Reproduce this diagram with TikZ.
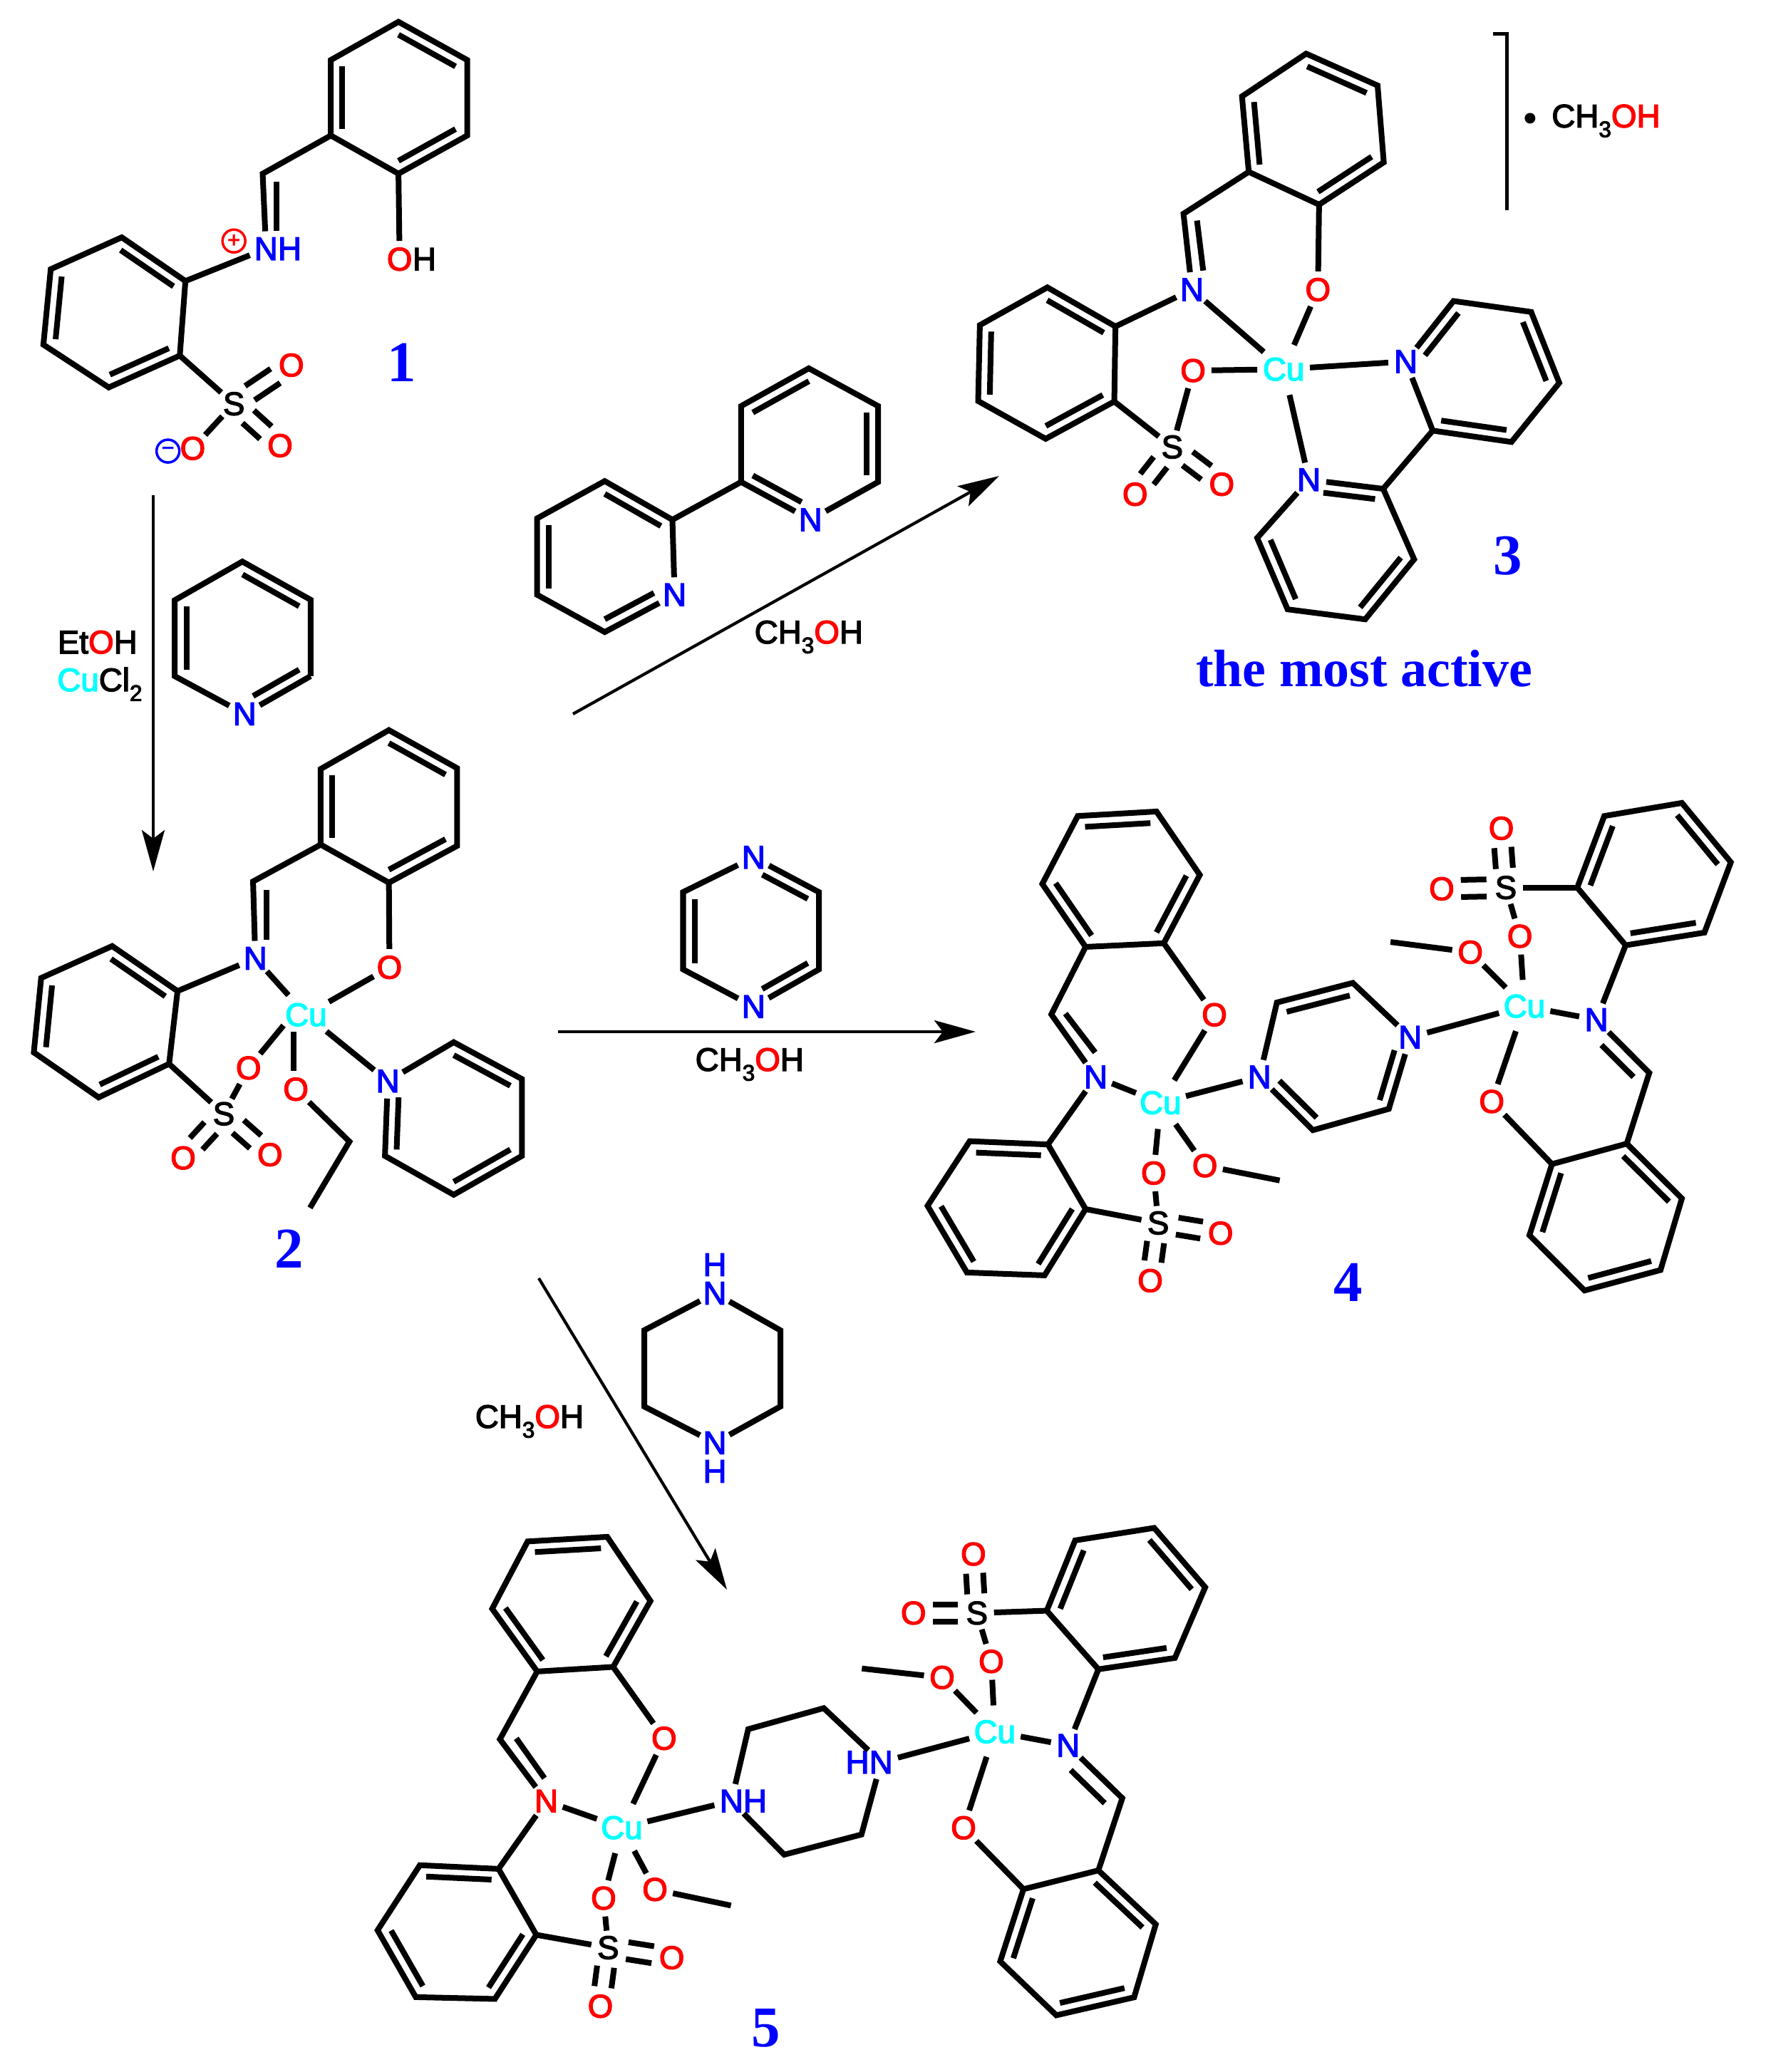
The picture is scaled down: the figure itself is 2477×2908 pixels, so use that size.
\documentclass[tikz,border=0pt]{standalone}
\usepackage{fontspec}
\setmainfont{Liberation Sans}[FakeBold=3]
\newfontfamily\numfont{Liberation Serif}[BoldFont={Liberation Serif Bold}]
\usetikzlibrary{calc,arrows.meta}
\definecolor{cuc}{RGB}{0,255,255}
\definecolor{nb}{RGB}{0,0,255}
\definecolor{ored}{RGB}{255,0,0}
\tikzset{
  bond/.style={line width=.08cm,line join=miter,line cap=butt},
  rxn/.style={line width=.042cm,-{Stealth[length=.58cm,width=.32cm,inset=.12cm]}},
  atomlab/.style={circle,inner sep=.2pt,font=\fontsize{13}{15}\selectfont},
  Na/.style={atomlab,text=nb},
  Nr/.style={atomlab,text=ored},
  Oa/.style={atomlab,text=ored},
  Sa/.style={atomlab,text=black},
  Cua/.style={atomlab,text=cuc,inner sep=.6pt},
  Hn/.style={inner sep=0pt,text=nb,font=\fontsize{13}{15}\selectfont},
  Hk/.style={inner sep=0pt,text=black,font=\fontsize{13}{15}\selectfont},
  plain/.style={inner sep=0pt,anchor=base,font=\fontsize{13}{15}\selectfont},
  cnum/.style={inner sep=0pt,text=nb,font=\numfont\bfseries\fontsize{23}{28}\selectfont},
  charge/.style={circle,draw,line width=.035cm,minimum size=.32cm,inner sep=0pt,font=\fontsize{8.5}{9}\selectfont},
  z1/.style={x=.0079083cm,y=-.0063776cm},
  z2/.style={shift={(12.4cm,0cm)},x=.0078889cm,y=-.0063776cm},
  z3/.style={shift={(0cm,-10cm)},x=.0079083cm,y=-.0057405cm},
  z4/.style={shift={(12.4cm,-10cm)},x=.0078889cm,y=-.0057405cm},
  z5/.style={shift={(4cm,-19cm)},x=.0063776cm,y=-.0064285cm},
  z6/.style={shift={(11cm,-20.5cm)},x=.0044643cm,y=-.0054717cm},
}
\newcommand{\dblin}[4][]{\draw[bond,#1] ($(#2)!.17!(#4)$) -- ($(#3)!.17!(#4)$);}
\newcommand{\sodbl}[2]{%
  \draw[bond] ($(#1)!.27cm!(#2)!.12cm!90:(#2)$) -- ($(#2)!.27cm!(#1)!.12cm!-90:(#1)$);
  \draw[bond] ($(#1)!.27cm!(#2)!-.12cm!90:(#2)$) -- ($(#2)!.27cm!(#1)!-.12cm!-90:(#1)$);}
\newcommand{\Cring}[7]{%
  \coordinate (#11) at (#2);\coordinate (#12) at (#3);\coordinate (#13) at (#4);
  \coordinate (#14) at (#5);\coordinate (#15) at (#6);\coordinate (#16) at (#7);
  \coordinate (#1c) at ($(#11)!.5!(#14)$);
  \draw[bond] (#11) -- (#12) -- (#13) -- (#14) -- (#15) -- (#16) -- cycle;
  \dblin{#11}{#12}{#1c}\dblin{#13}{#14}{#1c}\dblin{#15}{#16}{#1c}}
\newcommand{\lowsub}[1]{\raisebox{-.3em}{\fontsize{9}{9}\selectfont #1}}
\newcommand{\meoh}{CH\lowsub{3}\textcolor{ored}{O}H}
\newcommand{\meohr}{CH\lowsub{3}\textcolor{ored}{OH}}
\begin{document}
\begin{tikzpicture}[x=.01cm,y=-.01cm]
\useasboundingbox (0,0) rectangle (2477,2908);

% ---------- compound 1 and reagents
\begin{scope}[z1]
\Cring{a}{707,48}{829,132}{829,298}{707,382}{587,298}{587,132}
\coordinate (ach) at (466,382);
\node[Na] (an) at (472,547) {N};
\node[Hn] (anh) at (514,547) {H};
\node[Oa] (aoh) at (709,570) {O};
\node[Hk] (aohh) at (753,570) {H};
\draw[bond] (a5) -- (ach) -- (an);
\draw[bond] (491,400) -- (491,508);
\draw[bond] (a4) -- (aoh);
\Cring{b}{216,522}{329,618}{319,782}{193,852}{77,758}{90,592}
\draw[bond] (an) -- (b2);
\node[Sa] (as) at (415,888) {S};
\node[Oa] (ao1) at (517,803) {O};
\node[Oa] (ao2) at (497,980) {O};
\node[Oa] (ao3) at (342,986) {O};
\draw[bond] (b3) -- (as);
\draw[bond] (as) -- (ao3);
\sodbl{as}{ao1}
\sodbl{as}{ao2}
\node[charge,draw=ored,text=ored] (plus) at (415,530) {+};
\node[charge,draw=nb,text=nb] (minus) at (298,992) {−};
\node[cnum] (lab1) at (713,797) {1};
\node[plain] (etoh) at (173,1437) {Et\textcolor{ored}{O}H};
\node[plain] (cucl) at (177,1520) {\textcolor{cuc}{Cu}Cl\lowsub{2}};
% pyridine reagent
\coordinate (p1) at (430,1235);\coordinate (p2) at (551,1319);\coordinate (p3) at (551,1487);
\node[Na] (pn) at (434,1570) {N};
\coordinate (p5) at (310,1487);\coordinate (p6) at (310,1320);
\coordinate (pc) at ($(p1)!.5!(434,1570)$);
\draw[bond] (p3) -- (pn) -- (p5) -- (p6) -- (p1) -- (p2) -- (p3);
\dblin{p1}{p2}{pc}\dblin[shorten >=.14cm]{p3}{pn}{pc}\dblin{p5}{p6}{pc}
% bipyridine reagent
\coordinate (e1) at (1193,1143);\coordinate (e2) at (1073,1058);\coordinate (e3) at (953,1140);
\coordinate (e4) at (953,1308);\coordinate (e5) at (1073,1390);
\node[Na] (en) at (1197,1308) {N};
\coordinate (ec) at ($(e2)!.5!(e5)$);
\draw[bond] (en) -- (e1) -- (e2) -- (e3) -- (e4) -- (e5) -- (en);
\dblin{e1}{e2}{ec}\dblin{e3}{e4}{ec}\dblin[shorten >=.14cm]{e5}{en}{ec}
\coordinate (f1) at (1315,1060);\coordinate (f2) at (1315,893);\coordinate (f3) at (1435,810);
\coordinate (f4) at (1558,893);\coordinate (f5) at (1558,1060);
\node[Na] (fn) at (1438,1143) {N};
\coordinate (fc) at ($(f3)!.5!(fn)$);
\draw[bond] (fn) -- (f1) -- (f2) -- (f3) -- (f4) -- (f5) -- (fn);
\dblin{f2}{f3}{fc}\dblin{f4}{f5}{fc}\dblin[shorten >=.14cm]{f1}{fn}{fc}
\draw[bond] (e1) -- (f1);
\node[plain] (meoh1) at (1435,1415) {\meoh};
\end{scope}

% ---------- compound 3
\begin{scope}[z2]
\Cring{g}{750,118}{877,188}{888,357}{773,450}{648,378}{636,212}
\coordinate (gch) at (532,470);
\node[Na] (gn) at (547,637) {N};
\node[Oa] (go) at (771,637) {O};
\node[Cua] (gcu) at (710,812) {Cu};
\draw[bond] (g5) -- (gch) -- (gn);
\draw[bond] (556,485) -- (567,595);
\draw[bond] (g4) -- (go);
\draw[bond] (go) -- (gcu);
\draw[bond] (gn) -- (gcu);
\Cring{h}{290,632}{411,718}{409,883}{287,965}{167,882}{170,715}
\draw[bond] (gn) -- (h2);
\node[Oa] (go2) at (549,815) {O};
\node[Sa] (gs) at (512,983) {S};
\node[Oa] (go3) at (446,1087) {O};
\node[Oa] (go4) at (600,1065) {O};
\draw[bond] (go2) -- (gcu);
\draw[bond] (go2) -- (gs);
\draw[bond] (h3) -- (gs);
\sodbl{gs}{go3}
\sodbl{gs}{go4}
\node[Na] (gp1) at (927,795) {N};
\coordinate (q1a) at (1012,662);\coordinate (q1b) at (1150,686);\coordinate (q1c) at (1200,842);
\coordinate (q1d) at (1115,972);\coordinate (q1e) at (975,947);
\coordinate (q1m) at ($(q1a)!.5!(q1d)$);
\draw[bond] (gp1) -- (q1a) -- (q1b) -- (q1c) -- (q1d) -- (q1e) -- (gp1);
\dblin[shorten >=.14cm]{q1a}{gp1}{q1m}\dblin{q1b}{q1c}{q1m}\dblin{q1d}{q1e}{q1m}
\node[Na] (gp2) at (755,1055) {N};
\coordinate (q2a) at (887,1075);\coordinate (q2b) at (942,1230);\coordinate (q2c) at (855,1362);
\coordinate (q2d) at (717,1340);\coordinate (q2e) at (663,1183);
\coordinate (q2m) at ($(q2a)!.5!(q2d)$);
\draw[bond] (gp2) -- (q2a) -- (q2b) -- (q2c) -- (q2d) -- (q2e) -- (gp2);
\dblin[shorten >=.14cm]{q2a}{gp2}{q2m}\dblin{q2b}{q2c}{q2m}\dblin{q2d}{q2e}{q2m}
\draw[bond] (q1e) -- (q2a);
\draw[bond] (gcu) -- (gp1);
\draw[bond] (gcu) -- (gp2);
\coordinate (br1) at (1082,75);\coordinate (br2) at (1107,75);\coordinate (br3) at (1107,462);
\draw[line width=.05cm] (br1) -- (br2) -- (br3);
\node[circle,fill=black,minimum size=.15cm,inner sep=0pt] (dotm) at (1148,260) {};
\node[plain] (meoh4) at (1283,280) {\meohr};
\node[cnum] (lab3) at (1108,1223) {3};
\node[inner sep=0pt,anchor=base,text=nb,font=\numfont\bfseries\fontsize{21}{25}\selectfont] (active) at (853,1510) {the most active};
\end{scope}

% ---------- compound 2
\begin{scope}[z3]
\Cring{c}{690,42}{811,135}{811,325}{690,415}{569,322}{569,137}
\coordinate (cch) at (449,412);
\node[Na] (cn) at (453,600) {N};
\node[Oa] (co) at (691,622) {O};
\node[Cua] (ccu) at (543,738) {Cu};
\draw[bond] (c5) -- (cch) -- (cn);
\draw[bond] (473,433) -- (473,555);
\draw[bond] (c4) -- (co);
\draw[bond] (co) -- (ccu);
\draw[bond] (cn) -- (ccu);
\Cring{d}{199,570}{315,680}{300,858}{175,940}{60,830}{73,648}
\draw[bond] (cn) -- (d2);
\node[Sa] (cs) at (397,980) {S};
\node[Oa] (co1) at (441,868) {O};
\node[Oa] (co2) at (325,1088) {O};
\node[Oa] (co3) at (479,1080) {O};
\draw[bond] (d3) -- (cs);
\coordinate (cub1) at (503,764);
\draw[bond] (cub1) -- (co1);
\draw[bond] (co1) -- (cs);
\sodbl{cs}{co2}
\sodbl{cs}{co3}
\node[Oa] (co4) at (525,920) {O};
\coordinate (cub2) at (521,780);\coordinate (cub3) at (521,875);
\coordinate (et1) at (620,1048);\coordinate (et2) at (550,1210);
\draw[bond] (cub2) -- (cub3);
\draw[bond] (co4) -- (et1) -- (et2);
\node[Na] (cpn) at (688,900) {N};
\coordinate (r2) at (805,805);\coordinate (r3) at (926,895);\coordinate (r4) at (926,1083);
\coordinate (r5) at (805,1178);\coordinate (r6) at (683,1083);
\coordinate (rm) at ($(r2)!.5!(r5)$);
\draw[bond] (ccu) -- (cpn);
\draw[bond] (cpn) -- (r2) -- (r3) -- (r4) -- (r5) -- (r6) -- (cpn);
\dblin{r2}{r3}{rm}\dblin{r4}{r5}{rm}\dblin[shorten >=.14cm]{r6}{cpn}{rm}
\node[cnum] (lab2) at (513,1310) {2};
% pyrazine reagent
\node[Na] (zn1) at (1337,353) {N};
\node[Na] (zn2) at (1337,718) {N};
\coordinate (z2a) at (1453,438);\coordinate (z3a) at (1453,627);\coordinate (z5a) at (1212,627);\coordinate (z6a) at (1212,438);
\coordinate (zm) at ($(zn1)!.5!(zn2)$);
\draw[bond] (zn1) -- (z2a) -- (z3a) -- (zn2) -- (z5a) -- (z6a) -- (zn1);
\dblin[shorten >=.14cm]{z2a}{zn1}{zm}\dblin[shorten >=.14cm]{z3a}{zn2}{zm}\dblin{z5a}{z6a}{zm}
\node[plain] (meoh2) at (1330,875) {\meoh};
\end{scope}

% ---------- compound 4
\begin{scope}[z4]
\Cring{i}{344,252}{484,241}{561,396}{497,563}{358,572}{281,418}
\coordinate (ich) at (297,737);
\node[Na] (in) at (376,890) {N};
\node[Oa] (io) at (587,738) {O};
\node[Cua] (icu) at (491,953) {Cu};
\draw[bond] (i5) -- (ich) -- (in);
\draw[bond] (322,735) -- (375,830);
\draw[bond] (i4) -- (io);
\draw[bond] (io) -- (icu);
\draw[bond] (in) -- (icu);
\Cring{j}{152,1047}{291,1055}{358,1213}{285,1375}{147,1368}{77,1205}
\draw[bond] (in) -- (j2);
\node[Sa] (is) at (487,1247) {S};
\node[Oa] (io1) at (479,1125) {O};
\node[Oa] (io2) at (598,1272) {O};
\node[Oa] (io3) at (473,1388) {O};
\draw[bond] (j3) -- (is);
\draw[bond] (icu) -- (io1);
\draw[bond] (io1) -- (is);
\sodbl{is}{io2}
\sodbl{is}{io3}
\node[Oa] (io4) at (570,1107) {O};
\coordinate (ime) at (703,1143);
\draw[bond] (icu) -- (io4);
\draw[bond] (io4) -- (ime);
\node[Na] (yn1) at (667,890) {N};
\node[Na] (yn2) at (935,793) {N};
\coordinate (y2) at (698,708);\coordinate (y3) at (833,660);\coordinate (y5) at (897,968);\coordinate (y6) at (762,1020);
\coordinate (ym) at ($(yn1)!.5!(yn2)$);
\draw[bond] (icu) -- (yn1);
\draw[bond] (yn1) -- (y2) -- (y3) -- (yn2) -- (y5) -- (y6) -- (yn1);
\dblin{y2}{y3}{ym}\dblin[shorten >=.14cm]{y5}{yn2}{ym}\dblin[shorten >=.14cm]{y6}{yn1}{ym}
\node[Cua] (kcu) at (1138,717) {Cu};
\draw[bond] (yn2) -- (kcu);
\node[Oa] (ko1) at (1042,585) {O};
\coordinate (kme) at (900,560);
\draw[bond] (kcu) -- (ko1);
\draw[bond] (ko1) -- (kme);
\node[Oa] (ko2) at (1130,546) {O};
\node[Sa] (ks) at (1105,427) {S};
\node[Oa] (ko3) at (1097,282) {O};
\node[Oa] (ko4) at (991,430) {O};
\draw[bond] (kcu) -- (ko2);
\draw[bond] (ko2) -- (ks);
\sodbl{ks}{ko3}
\sodbl{ks}{ko4}
\Cring{k}{1232,427}{1280,252}{1418,220}{1505,365}{1458,537}{1318,568}
\draw[bond] (ks) -- (k1);
\node[Na] (kn) at (1266,750) {N};
\draw[bond] (kcu) -- (kn);
\draw[bond] (kn) -- (k6);
\coordinate (kch) at (1360,880);
\Cring{l}{1320,1053}{1418,1187}{1380,1362}{1245,1412}{1147,1277}{1187,1103}
\draw[bond] (kn) -- (kch) -- (l1);
\draw[bond] (1275,812) -- (1332,890);
\node[Oa] (ko5) at (1080,950) {O};
\draw[bond] (kcu) -- (ko5);
\draw[bond] (ko5) -- (l6);
\node[cnum] (lab4) at (825,1393) {4};
\end{scope}

% ---------- piperazine reagent
\node[Hn] (wh1) at (1003,1775) {H};
\node[Na,inner sep=0pt] (wn1) at (1003,1815) {N};
\node[Na,inner sep=0pt] (wn2) at (1003,2025) {N};
\node[Hn] (wh2) at (1003,2065) {H};
\coordinate (w1) at (904,1867);\coordinate (w2) at (1095,1867);\coordinate (w3) at (1095,1974);\coordinate (w4) at (904,1974);
\draw[bond] (wn1) -- (w2) -- (w3) -- (wn2) -- (w4) -- (w1) -- (wn1);

% ---------- compound 5
\begin{scope}[z5]
\Cring{m}{533,408}{708,398}{803,538}{721,682}{554,692}{455,555}
\coordinate (mch) at (472,840);
\node[Nr] (mn) at (574,975) {N};
\node[Oa] (mo) at (833,838) {O};
\node[Cua] (mcu) at (740,1033) {Cu};
\draw[bond] (m5) -- (mch) -- (mn);
\draw[bond] (508,838) -- (570,925);
\draw[bond] (m4) -- (mo);
\draw[bond] (mo) -- (mcu);
\draw[bond] (mn) -- (mcu);
\Cring{n}{296,1115}{469,1123}{552,1267}{461,1407}{287,1403}{203,1257}
\draw[bond] (mn) -- (n2);
\node[Sa] (ms) at (710,1295) {S};
\node[Oa] (mo1) at (700,1187) {O};
\node[Oa] (mo2) at (850,1317) {O};
\node[Oa] (mo3) at (693,1423) {O};
\draw[bond] (n3) -- (ms);
\draw[bond] (mcu) -- (mo1);
\draw[bond] (mo1) -- (ms);
\sodbl{ms}{mo2}
\sodbl{ms}{mo3}
\node[Oa] (mo4) at (813,1168) {O};
\coordinate (mme) at (980,1203);
\draw[bond] (mcu) -- (mo4);
\draw[bond] (mo4) -- (mme);
\node[Na] (vn1) at (981,975) {N};
\node[Hn] (vh1) at (1033,975) {H};
\node[Na] (vn2) at (1310,890) {N};
\node[Hn] (vh2) at (1258,890) {H};
\coordinate (v2) at (1018,818);\coordinate (v3) at (1184,772);\coordinate (v5) at (1267,1048);\coordinate (v6) at (1097,1092);
\draw[bond] (mcu) -- (vn1);
\draw[bond] (vn1) -- (v2) -- (v3) -- (vn2) -- (v5) -- (v6) -- (vn1);
\node[plain] (meoh3) at (537,160) {\meoh};
\node[cnum] (lab5) at (1057,1470) {5};
\end{scope}
\begin{scope}[z6]
\node[Cua] (scu) at (660,692) {Cu};
\draw[bond] (vn2) -- (scu);
\node[Oa] (so1) at (649,512) {O};
\node[Sa] (ss) at (604,388) {S};
\node[Oa] (so2) at (593,237) {O};
\node[Oa] (so3) at (405,388) {O};
\draw[bond] (scu) -- (so1);
\draw[bond] (so1) -- (ss);
\sodbl{ss}{so2}
\sodbl{ss}{so3}
\Cring{s}{823,382}{912,202}{1160,170}{1320,322}{1225,503}{985,532}
\draw[bond] (ss) -- (s1);
\node[Na] (sn) at (890,727) {N};
\draw[bond] (scu) -- (sn);
\draw[bond] (sn) -- (s6);
\coordinate (sch) at (1060,862);
\Cring{t}{985,1047}{1165,1185}{1097,1372}{853,1418}{677,1280}{750,1095}
\draw[bond] (sn) -- (sch) -- (t1);
\draw[bond] (898,790) -- (1005,875);
\node[Oa] (so4) at (562,938) {O};
\draw[bond] (scu) -- (so4);
\draw[bond] (so4) -- (t6);
\node[Oa] (so5) at (495,553) {O};
\coordinate (sme) at (243,530);
\draw[bond] (scu) -- (so5);
\draw[bond] (so5) -- (sme);
\end{scope}

% ---------- reaction arrows
\coordinate (a1s) at (215,695);\coordinate (a1t) at (215,1223);
\coordinate (a2s) at (804,1002);\coordinate (a2t) at (1402,668);
\coordinate (a3s) at (783,1448);\coordinate (a3t) at (1369,1448);
\coordinate (a4s) at (756,1794);\coordinate (a4t) at (1020,2231);
\draw[rxn] (a1s) -- (a1t);
\draw[rxn] (a2s) -- (a2t);
\draw[rxn] (a3s) -- (a3t);
\draw[rxn] (a4s) -- (a4t);
\end{tikzpicture}
\end{document}
